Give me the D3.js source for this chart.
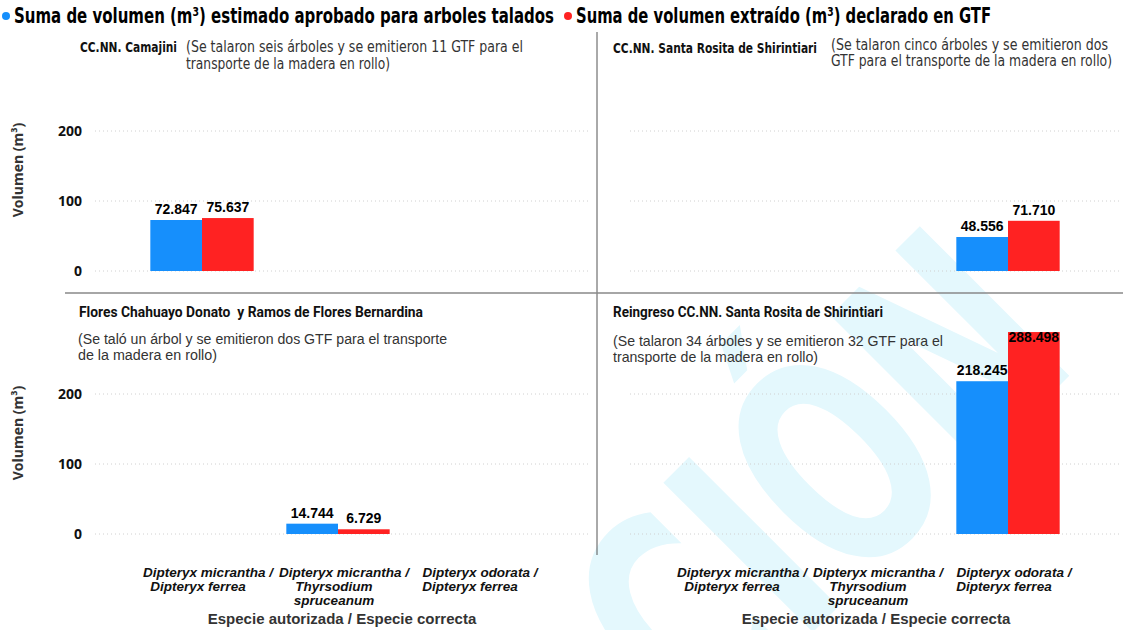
<!DOCTYPE html>
<html>
<head>
<meta charset="utf-8">
<script src="https://cdn.jsdelivr.net/npm/d3@7"></script>
<style>
  body { margin: 0; background: #fff; }
  svg { display: block; }
</style>
</head>
<body>
<div id="chart"></div>
<script>
// categories (especie autorizada / especie correcta)
const categories = ["micrantha-ferrea", "micrantha-thyrsodium", "odorata-ferrea"];
const categoryLines = [
    ["Dipteryx micrantha /", "Dipteryx ferrea"],
    ["Dipteryx micrantha /", "Thyrsodium", "spruceanum"],
    ["Dipteryx odorata /", "Dipteryx ferrea"]
];
const seriesNames = [
    "Suma de volumen (m³) estimado aprobado para arboles talados",
    "Suma de volumen extraído (m³) declarado en GTF"
];
const seriesColors = ["#168ffc", "#ff2222"];

// values per panel (null = no bar)
const aprobadoCamajini = [72.847, null, null];
const extraidoCamajini = [75.637, null, null];
const aprobadoSantaRosita = [null, null, 48.556];
const extraidoSantaRosita = [null, null, 71.710];
const aprobadoFlores = [null, 14.744, null];
const extraidoFlores = [null, 6.729, null];
const aprobadoReingreso = [null, null, 218.245];
const extraidoReingreso = [null, null, 288.498];

const yTicks = [0, 100, 200];

const width = 1123, height = 630;
const narrow = "'Liberation Sans Narrow', 'DejaVu Sans Condensed', 'Liberation Sans', sans-serif";

const svg = d3.select("#chart").append("svg")
    .attr("width", width)
    .attr("height", height);

// faint watermark in the background
svg.append("text")
    .attr("transform", "translate(700,745) rotate(-45)")
    .attr("font-family", "'DejaVu Sans', sans-serif")
    .attr("font-weight", "bold")
    .attr("font-size", 290)
    .attr("textLength", 540)
    .attr("lengthAdjust", "spacingAndGlyphs")
    .attr("fill", "#e4f8fd")
    .text("CIÓN");

// legend
const legendX = [6, 568];
seriesNames.forEach((name, i) => {
    svg.append("circle")
        .attr("cx", legendX[i])
        .attr("cy", 16)
        .attr("r", 4)
        .attr("fill", seriesColors[i]);
    svg.append("text")
        .attr("x", legendX[i] + 8)
        .attr("y", 23)
        .attr("font-family", narrow)
        .attr("font-weight", "bold")
        .attr("font-size", 21)
        .attr("textLength", i === 0 ? 540 : 415)
        .attr("lengthAdjust", "spacingAndGlyphs")
        .attr("fill", "#000")
        .text(name);
});

// divider lines
svg.append("line")
    .attr("x1", 597).attr("x2", 597)
    .attr("y1", 32).attr("y2", 555)
    .attr("stroke", "#555").attr("stroke-width", 1);
svg.append("line")
    .attr("x1", 65).attr("x2", width)
    .attr("y1", 293).attr("y2", 293)
    .attr("stroke", "#888").attr("stroke-width", 1.5);

const panels = [
    {
        aprobado: aprobadoCamajini, extraido: extraidoCamajini,
        xCenter: 338, base: 271, gridX: [95, 590], showAxis: true,
        title: { text: "CC.NN. Camajini", x: 80, y: 52, size: 14, len: 97, font: narrow },
        note: { lines: ["(Se talaron seis árboles y se emitieron 11 GTF para el", "transporte de la madera en rollo)"],
                x: 186, y: 52, dy: 17, size: 15, lens: [337, 204], font: narrow }
    },
    {
        aprobado: aprobadoSantaRosita, extraido: extraidoSantaRosita,
        xCenter: 872, base: 271, gridX: [630, 1120], showAxis: false,
        title: { text: "CC.NN. Santa Rosita de Shirintiari", x: 613, y: 53, size: 14, len: 204, font: narrow },
        note: { lines: ["(Se talaron cinco árboles y se emitieron dos", "GTF para el transporte de la madera en rollo)"],
                x: 831, y: 50, dy: 16, size: 15, lens: [277, 281], font: narrow }
    },
    {
        aprobado: aprobadoFlores, extraido: extraidoFlores,
        xCenter: 338, base: 534, gridX: [95, 590], showAxis: true,
        title: { text: "Flores Chahuayo Donato  y Ramos de Flores Bernardina", x: 79, y: 317, size: 14, len: 344, font: "Roboto, sans-serif" },
        note: { lines: ["(Se taló un árbol y se emitieron dos GTF para el transporte", "de la madera en rollo)"],
                x: 78, y: 344, dy: 16, size: 14, lens: [369, 139], font: "'Liberation Sans', Arial, sans-serif" }
    },
    {
        aprobado: aprobadoReingreso, extraido: extraidoReingreso,
        xCenter: 872, base: 534, gridX: [630, 1120], showAxis: false,
        title: { text: "Reingreso CC.NN. Santa Rosita de Shirintiari", x: 613, y: 317, size: 14, len: 270, font: "Roboto, sans-serif" },
        note: { lines: ["(Se talaron 34 árboles y se emitieron 32 GTF para el", "transporte de la madera en rollo)"],
                x: 613, y: 346, dy: 16, size: 15, lens: [330, 205], font: "'Liberation Sans', Arial, sans-serif" }
    }
];

const step = 136, pad = 0.24;
const fmt = d3.format(".3f");

panels.forEach(p => {
    const half = step * categories.length / 2;
    const x = d3.scaleBand()
        .domain(categories)
        .range([p.xCenter - half, p.xCenter + half])
        .paddingInner(pad)
        .paddingOuter(pad / 2);
    const xs = d3.scaleBand()
        .domain([0, 1])
        .range([0, x.bandwidth()]);
    const y = d3.scaleLinear()
        .domain([0, 300])
        .range([p.base, p.base - 210]);

    const g = svg.append("g");

    // dotted gridlines
    g.selectAll(".grid")
        .data(yTicks)
        .join("line")
        .attr("x1", p.gridX[0]).attr("x2", p.gridX[1])
        .attr("y1", d => y(d)).attr("y2", d => y(d))
        .attr("stroke", "#d0d0d0")
        .attr("stroke-width", 1)
        .attr("stroke-dasharray", "1,3");

    if (p.showAxis) {
        const axis = g.append("g")
            .attr("transform", "translate(84,0)")
            .call(d3.axisLeft(y).tickValues(yTicks).tickSize(0).tickPadding(2));
        axis.select(".domain").remove();
        axis.selectAll("text")
            .attr("font-family", "'Open Sans', sans-serif")
            .attr("font-weight", "bold")
            .attr("font-size", 14)
            .attr("fill", "#111");

        g.append("text")
            .attr("transform", `translate(23,${p.base - 101}) rotate(-90)`)
            .attr("text-anchor", "middle")
            .attr("font-family", "'Open Sans', sans-serif")
            .attr("font-weight", "bold")
            .attr("font-size", 14)
            .attr("fill", "#333")
            .text("Volumen (m³)");
    }

    // bars
    const rows = [];
    categories.forEach((c, i) => {
        [p.aprobado[i], p.extraido[i]].forEach((v, s) => {
            if (v != null) rows.push({ c, s, v });
        });
    });

    g.selectAll(".bar")
        .data(rows)
        .join("rect")
        .attr("x", d => x(d.c) + xs(d.s))
        .attr("y", d => y(d.v))
        .attr("width", xs.bandwidth())
        .attr("height", d => y(0) - y(d.v))
        .attr("fill", d => seriesColors[d.s]);

    g.selectAll(".lbl")
        .data(rows)
        .join("text")
        .attr("x", d => x(d.c) + xs(d.s) + xs.bandwidth() / 2)
        .attr("y", d => d.v > 250 ? y(d.v) + 10 : y(d.v) - 6)
        .attr("text-anchor", "middle")
        .attr("font-family", "'Liberation Sans', Arial, sans-serif")
        .attr("font-weight", "bold")
        .attr("font-size", 14)
        .attr("fill", "#000")
        .text(d => fmt(d.v));

    // panel title and note
    g.append("text")
        .attr("x", p.title.x).attr("y", p.title.y)
        .attr("font-family", p.title.font)
        .attr("font-weight", "bold")
        .attr("font-size", p.title.size)
        .attr("textLength", p.title.len)
        .attr("lengthAdjust", "spacingAndGlyphs")
        .attr("fill", "#111")
        .style("white-space", "pre")
        .text(p.title.text);

    p.note.lines.forEach((line, i) => {
        g.append("text")
            .attr("x", p.note.x)
            .attr("y", p.note.y + i * p.note.dy)
            .attr("font-family", p.note.font)
            .attr("font-size", p.note.size)
            .attr("textLength", p.note.lens[i])
            .attr("lengthAdjust", "spacingAndGlyphs")
            .attr("fill", "#333")
            .text(line);
    });

    // x labels only on bottom panels
    if (p.base > 400) {
        categories.forEach((c, i) => {
            const cx = x(c) + x.bandwidth() / 2;
            categoryLines[i].forEach((line, j) => {
                g.append("text")
                    .attr("x", cx + (j === 0 ? 6 : -4))
                    .attr("y", 577 + j * 14)
                    .attr("text-anchor", "middle")
                    .attr("font-family", "'Liberation Sans', Arial, sans-serif")
                    .attr("font-weight", "bold")
                    .attr("font-style", "italic")
                    .attr("font-size", 13.5)
                    .attr("fill", "#111")
                    .text(line);
            });
        });

        g.append("text")
            .attr("x", p.xCenter + 4)
            .attr("y", 624)
            .attr("text-anchor", "middle")
            .attr("font-family", "'Liberation Sans', Arial, sans-serif")
            .attr("font-weight", "bold")
            .attr("font-size", 15)
            .attr("fill", "#333")
            .text("Especie autorizada / Especie correcta");
    }
});
</script>
</body>
</html>
